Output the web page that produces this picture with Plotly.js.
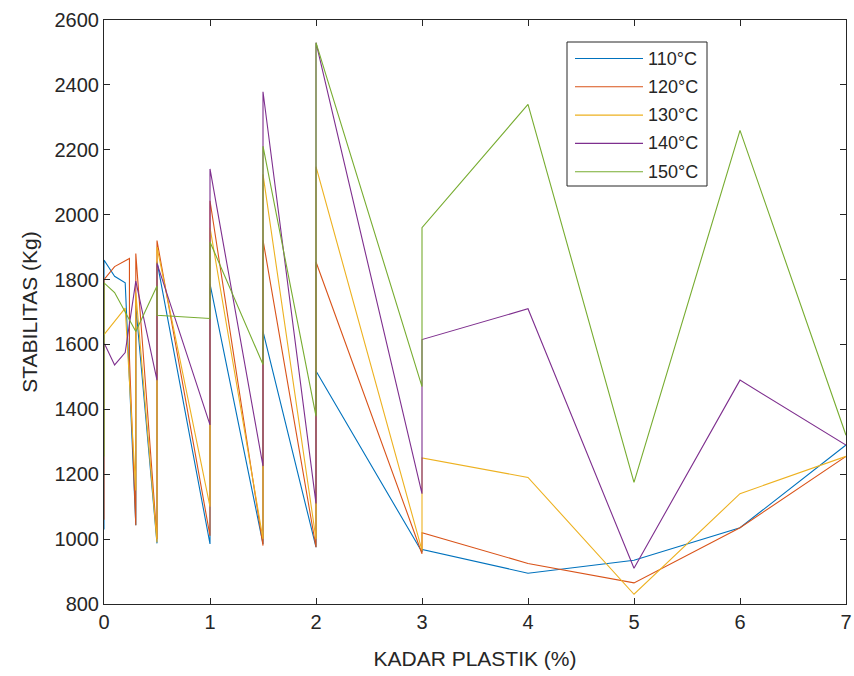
<!DOCTYPE html>
<html><head><meta charset="utf-8">
<script src="https://cdn.plot.ly/plotly-3.0.1.min.js"></script>
<style>html,body{margin:0;padding:0;background:#fff;}#chart{width:854px;height:676px;}</style>
</head><body><div id="chart"></div>
<script>
const seriesNames = ["110°C","120°C","130°C","140°C","150°C"];
const seriesColors = ["#0072BD","#D95319","#EDB120","#7E2F8E","#77AC30"];

const x110 = [0,0,0.1,0.2,0.3,0.3,0.5,0.5,1,1,1.5,1.5,2,2,3,3,4,5,6,7];
const y110 = [1030,1860,1810,1790,1043,1720,987,1855,985,1787,985,1640,975,1518,960,968,895,935,1035,1290];

const x120 = [0,0,0.1,0.24,0.24,0.3,0.3,0.5,0.5,1,1,1.5,1.5,2,2,3,3,4,5,6,7];
const y120 = [1060,1800,1840,1865,1560,1043,1880,1000,1920,1010,2043,980,1922,975,1854,955,1020,925,865,1035,1255];

const x130 = [0,0.1,0.2,0.3,0.3,0.5,0.5,1,1,1.5,1.5,2,2,3,3,4,5,6,7];
const y130 = [1630,1670,1712,1150,1760,990,1900,1100,1960,1000,2124,1000,2148,965,1250,1190,830,1140,1255];

const x140 = [0,0,0.1,0.2,0.3,0.5,0.5,1,1,1.5,1.5,2,2,3,3,4,5,6,7];
const y140 = [1580,1605,1537,1575,1795,1490,1850,1352,2141,1225,2379,1110,2530,1140,1615,1710,910,1490,1290];

const x150 = [0,0,0.1,0.2,0.3,0.5,0.5,1,1,1.5,1.5,2,2,3,3,4,5,6,7];
const y150 = [1255,1790,1760,1700,1640,1780,1690,1680,1916,1538,2211,1379,2530,1470,1960,2340,1175,2260,1320];

const xTicks = [0,1,2,3,4,5,6,7];
const yTicks = [800,1000,1200,1400,1600,1800,2000,2200,2400,2600];

const xs = [x110,x120,x130,x140,x150];
const ys = [y110,y120,y130,y140,y150];

const traces = xs.map((xv,i)=>({
  x: xv, y: ys[i], type:'scatter', mode:'lines', name: seriesNames[i],
  line:{color: seriesColors[i], width:1.1}
}));

const font = {family:'"Liberation Sans", Arial, Helvetica, sans-serif', color:'#262626'};
const axisCommon = {
  showline:true, linecolor:'#262626', linewidth:1, mirror:'ticks',
  ticks:'inside', ticklen:6, tickcolor:'#262626', tickwidth:1,
  showgrid:false, zeroline:false, tickfont:{...font, size:20}
};

// manual legend box (MATLAB style, long line samples), in paper coordinates
const W = 742, H = 584, L = 104, T = 20;
const px = v => (v - L) / W;
const py = v => (T + H - v) / H;
const shapes = [{type:'rect', xref:'paper', yref:'paper',
  x0:px(567), x1:px(707), y0:py(186), y1:py(42),
  line:{color:'#262626', width:1}, fillcolor:'#ffffff', layer:'above'}];
const annotations = [];
seriesNames.forEach((n,i)=>{
  const yy = 58.5 + i*28.3;
  shapes.push({type:'line', xref:'paper', yref:'paper', x0:px(575), x1:px(643), y0:py(yy), y1:py(yy),
    line:{color:seriesColors[i], width:1.1}, layer:'above'});
  annotations.push({xref:'paper', yref:'paper', x:px(646), y:py(yy), xanchor:'left', yanchor:'middle',
    text:n, showarrow:false, font:{...font, size:18}});
});

const layout = {
  width:854, height:676,
  margin:{l:104, r:8, t:20, b:72},
  paper_bgcolor:'#ffffff', plot_bgcolor:'#ffffff',
  font: font,
  xaxis:{...axisCommon, range:[0,7], tickvals:xTicks, ticktext:xTicks.map(String),
    title:{text:'KADAR PLASTIK (%)', font:{...font, size:21}, standoff:19}},
  yaxis:{...axisCommon, range:[800,2600], tickvals:yTicks, ticktext:yTicks.map(String),
    title:{text:'STABILITAS (Kg)', font:{...font, size:21}, standoff:11}},
  shapes: shapes,
  annotations: annotations,
  showlegend:false
};

Plotly.newPlot('chart', traces, layout, {displayModeBar:false, staticPlot:true});
</script>
</body></html>
